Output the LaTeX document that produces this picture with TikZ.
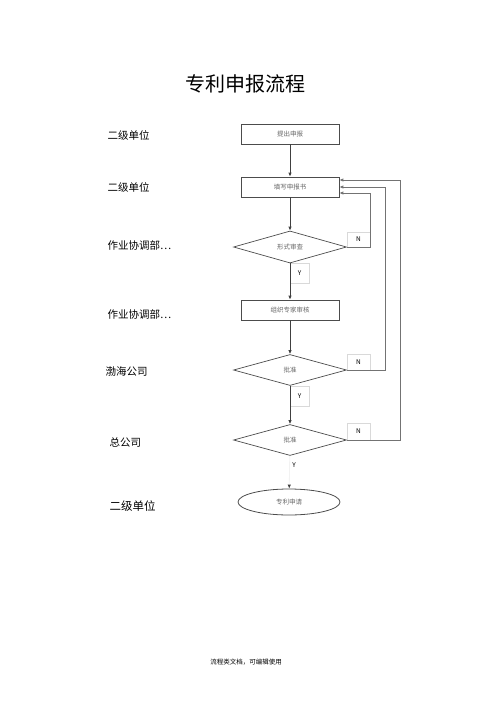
\documentclass[tikz,border=0pt]{standalone}
\usepackage{fontspec}
\setmainfont{Noto Sans CJK SC}
\usetikzlibrary{shapes.geometric, arrows.meta}

\tikzset{
  >={Latex[length=4pt,width=3.5pt]},
  procbox/.style={draw=black!70, line width=0.7pt, minimum width=98pt, minimum height=20pt,
    inner sep=0pt, text=black!60, font=\fontsize{6.5}{7}\selectfont},
  checkbox/.style={diamond, draw=black!70, line width=0.7pt, minimum width=113pt, minimum height=31pt,
    inner sep=0pt, text=black!60, font=\fontsize{6.5}{7}\selectfont},
  endbox/.style={ellipse, draw=black!70, line width=0.8pt, minimum width=102pt, minimum height=26pt,
    inner sep=0pt, text=black!60, font=\fontsize{6.5}{7}\selectfont},
  unit/.style={anchor=west, font=\fontsize{10.5}{12}\selectfont},
  yn/.style={font=\fontsize{6.5}{7}\selectfont, inner sep=0pt},
  ynbox/.style={yn, draw=black!15, line width=0.4pt},
  flow/.style={->, line width=0.8pt, draw=black!75},
  back/.style={->, line width=0.8pt, draw=black!55}
}

\begin{document}
\begin{tikzpicture}[x=1pt, y=-1pt]
\useasboundingbox (0,0) rectangle (500,707);

\node (title) at (245,84) {\fontsize{20}{22}\selectfont 专利申报流程};

% units on the left
\node [unit] (u1) at (104,135) {二级单位};
\node [unit] (u2) at (104,187) {二级单位};
\node [unit] (u3) at (104,245) {作业协调部…};
\node [unit] (u4) at (104,314) {作业协调部…};
\node [unit] (u5) at (102,372) {渤海公司};
\node [unit] (u6) at (106,442) {总公司};
\node [unit, font=\fontsize{11.5}{13}\selectfont] (u7) at (106,506) {二级单位};

% steps
\node [procbox] (submit) at (290,134) {提出申报};
\node [procbox] (fill) at (290,187) {填写申报书};
\node [checkbox] (check) at (290,247) {形式审查};
\node [procbox] (review) at (290,310) {组织专家审核};
\node [checkbox] (approvea) at (290,370) {批准};
\node [checkbox] (approveb) at (290,440) {批准};
\node [endbox] (grant) at (289,502) {专利申请};

% labels
\node [ynbox, anchor=south west, minimum width=23pt, minimum height=15pt] (na) at (check.east) {N};
\node [ynbox, anchor=north west, minimum width=19pt, minimum height=20pt] (ya) at (check.south) {Y};
\node [ynbox, anchor=south west, minimum width=23pt, minimum height=16pt] (nb) at (approvea.east) {N};
\node [ynbox, anchor=north west, minimum width=19pt, minimum height=20pt] (yb) at (approvea.south) {Y};
\node [ynbox, anchor=south west, minimum width=23pt, minimum height=17pt] (nc) at (approveb.east) {N};
\node [yn] (yc) at (294,465) {Y};

% main flow
\draw [flow] (submit) -- (fill);
\draw [flow] (fill) -- (check);
\draw [flow] (check) -- (review);
\draw [flow] (review) -- (approvea);
\draw [flow] (approvea) -- (approveb);
\draw [flow, draw=black!5, -{Latex[length=4pt,width=3.5pt,black!75]}] (approveb) -- (grant);

% back to the form
\draw [back] (check.east) -- ++(24,0) |- ([yshift=-6pt]fill.east);
\draw [back] (approvea.east) -- ++(39,0) |- (fill.east);
\draw [back] (approveb.east) -- ++(54,0) |- ([yshift=7pt]fill.east);

\node (note) at (246,662) {\fontsize{6.5}{7}\selectfont 流程类文档，可编辑使用};
\end{tikzpicture}
\end{document}
